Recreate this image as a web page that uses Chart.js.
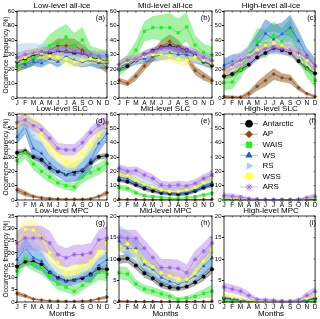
<!DOCTYPE html>
<html>
<head>
<meta charset="utf-8">
<script src="https://cdn.jsdelivr.net/npm/chart.js@4.4.1/dist/chart.umd.min.js"></script>
<style>
  body { margin: 0; background: #fff; }
  #wrap { position: relative; width: 320px; height: 319px; overflow: hidden; font-family: "Liberation Sans", Arial, sans-serif; color: #000; }
  #wrap canvas { position: absolute; left: 0; top: 0; }
  .title { position: absolute; font-size: 8px; line-height: 8px; white-space: nowrap; transform: translateX(-50%); }
  .letter { position: absolute; font-size: 7.5px; line-height: 8px; white-space: nowrap; transform: translateX(-100%); }
  .ytitle { position: absolute; font-size: 6.6px; line-height: 7px; white-space: nowrap; transform: translate(-50%, -50%) rotate(-90deg); }
</style>
</head>
<body>
<div id="wrap"></div>
<script>
const months = ['J', 'F', 'M', 'A', 'M', 'J', 'J', 'A', 'S', 'O', 'N', 'D']
const seriesNames = ['Antarctic', 'AP', 'WAIS', 'WS', 'RS', 'WSS', 'ARS']

// series order in every table: Antarctic, AP, WAIS, WS, RS, WSS, ARS
const lowIceMean = [
  [25, 27, 29, 31, 31, 32, 32, 31, 31, 28, 27, 25],
  [22, 24, 27, 30, 33, 36, 36, 36, 33, 28, 25, 21],
  [22, 25, 28, 31, 36, 38, 42, 36, 40, 29, 28, 28],
  [25, 23, 25, 24, 27, 25, 29, 26, 25, 26, 24, 24],
  [29, 30, 31, 32, 33, 31, 30, 29, 28, 27, 26, 28],
  [26, 28, 31, 31, 29, 28, 27, 25, 26, 27, 26, 25],
  [28, 30, 31, 32, 32, 33, 32, 32, 31, 30, 29, 29]
]
const lowIceSd = [
  [3, 3, 3, 3, 3, 3, 3, 3, 3, 3, 3, 3],
  [4, 4, 4, 4, 4, 5, 5, 5, 4, 4, 4, 4],
  [4, 4, 5, 6, 8, 10, 9, 9, 9, 7, 6, 5],
  [3, 3, 3, 3, 3, 4, 4, 4, 4, 4, 4, 4],
  [8, 8, 7, 5, 4, 4, 4, 4, 4, 4, 5, 6],
  [3, 4, 4, 4, 4, 4, 4, 4, 4, 3, 3, 3],
  [3, 3, 3, 3, 3, 3, 3, 3, 3, 3, 3, 3]
]

const midIceMean = [
  [20, 22, 26, 30, 32.5, 35, 36, 35, 33, 29.5, 25, 22.5],
  [12, 10, 15, 22, 29, 35, 39, 35, 29, 19, 15, 12],
  [20, 25, 33, 46, 48.5, 48.5, 48.5, 45, 49, 36.5, 31.5, 29.5],
  [21, 24, 26, 27, 28, 30, 31, 30, 30, 28, 25, 23],
  [22, 25, 26, 29, 30, 32, 30, 28, 28, 29, 27, 25],
  [22, 25, 27, 29, 30, 30, 29, 27, 26, 28, 26, 24],
  [23, 26, 27, 30, 32, 34, 35, 34, 33, 31, 28, 26]
]
const midIceSd = [
  [2, 2, 2, 2, 2, 2, 2, 2, 2, 2, 2, 2],
  [2, 2, 3, 3, 4, 5, 5, 5, 4, 3, 3, 2],
  [5, 5, 6, 7, 8, 9, 10, 10, 10, 7, 6, 6],
  [3, 3, 3, 3, 3, 4, 4, 4, 4, 4, 3, 3],
  [3, 3, 3, 3, 3, 3, 3, 3, 3, 3, 3, 3],
  [3, 3, 3, 3, 3, 4, 4, 4, 4, 3, 3, 3],
  [3, 3, 3, 3, 3, 3, 3, 3, 3, 3, 3, 3]
]

const highIceMean = [
  [15, 16.5, 19.5, 23, 28, 31, 34.5, 33, 31, 25.5, 20.5, 17],
  [1, 0.5, 0.5, 3, 8, 12, 16.5, 14, 13, 7, 3, 1],
  [10.5, 11, 19.5, 30.5, 39, 37.5, 43, 39, 46, 32.5, 20, 12],
  [22.5, 25, 26, 29.5, 36.5, 44.5, 40.5, 44, 48.5, 39.5, 29.5, 22.5],
  [19, 24, 27, 30, 33, 37, 38, 37, 35, 32, 27, 22],
  [18, 22, 25, 29, 33, 36, 38, 36, 33, 30, 26, 21],
  [20, 23, 26, 28, 31, 34, 35, 34, 33, 31, 28, 22]
]
const highIceSd = [
  [2, 2, 2, 2, 2, 2, 2, 2, 2, 2, 2, 2],
  [1, 1, 1, 2, 3, 4, 4, 3, 3, 2, 1, 1],
  [5, 5, 6, 7, 9, 10, 10, 9, 9, 7, 6, 5],
  [5, 5, 5, 6, 8, 10, 10, 8, 9, 7, 5, 5],
  [4, 4, 5, 6, 7, 8, 8, 7, 7, 6, 5, 4],
  [4, 4, 4, 4, 4, 4, 4, 4, 4, 4, 4, 4],
  [4, 4, 4, 4, 4, 4, 4, 4, 4, 4, 4, 4]
]

const lowSlcMean = [
  [33, 34, 30, 28, 22.5, 20, 18, 19.5, 20.5, 26, 30, 31],
  [7, 4.5, 2.5, 1.5, 1, 0.8, 0.5, 0.5, 0.5, 0.8, 2.5, 5],
  [27.5, 33, 25, 20, 16, 12, 10, 9, 16, 19, 21.5, 25.5],
  [44, 51, 36, 32.5, 25.5, 21, 17.5, 17.5, 21, 28, 39.5, 46.5],
  [51, 51, 45, 36, 29, 22, 19, 21, 24, 33, 43, 49],
  [52, 57, 53, 46.5, 37, 32, 26.5, 25.5, 32.5, 38, 45, 51],
  [54, 56, 52, 49, 43, 36, 35, 35, 40, 47, 52, 54]
]
const lowSlcSd = [
  [2, 2, 2, 2, 2, 2, 2, 2, 2, 2, 2, 2],
  [2, 2, 1, 1, 1, 0.5, 0.5, 0.5, 0.5, 1, 1, 2],
  [4, 4, 4, 4, 4, 3, 3, 3, 4, 4, 4, 4],
  [5, 5, 7, 8, 6, 5, 5, 5, 6, 7, 6, 5],
  [5, 5, 6, 6, 6, 5, 5, 5, 5, 6, 6, 5],
  [4, 4, 5, 6, 6, 5, 5, 5, 5, 5, 5, 4],
  [4, 4, 4, 4, 4, 4, 4, 4, 4, 4, 4, 4]
]

const midSlcMean = [
  [14, 12.8, 10.5, 8, 6.3, 5, 4.6, 4, 4.6, 6.3, 8.6, 10.5],
  [0.5, 0.4, 0.3, 0.2, 0.2, 0.2, 0.1, 0.1, 0.2, 0.2, 0.3, 0.4],
  [8.8, 8, 5, 3, 2.3, 1.9, 1.2, 1.2, 1.6, 2.3, 3.5, 4.6],
  [16, 15, 12, 10, 8, 6, 5, 5, 5.5, 7, 10, 12],
  [20, 18, 15, 12, 10, 8, 7, 7, 8, 10, 13, 16],
  [18, 17, 14, 11, 9, 7, 6, 6, 7, 9, 12, 15],
  [22, 20, 20.5, 17.5, 15, 10.5, 9.8, 10.5, 9.8, 11.6, 15, 17.5]
]
const midSlcSd = [
  [1.5, 1.5, 1.5, 1.5, 1.5, 1.5, 1.5, 1.5, 1.5, 1.5, 1.5, 1.5],
  [0.3, 0.3, 0.3, 0.3, 0.3, 0.3, 0.3, 0.3, 0.3, 0.3, 0.3, 0.3],
  [2, 2, 1.5, 1, 1, 1, 0.5, 0.5, 0.5, 1, 1, 1.5],
  [3, 3, 2, 2, 2, 2, 2, 2, 2, 2, 2, 3],
  [4, 4, 3, 3, 2, 2, 2, 2, 2, 2, 3, 3],
  [2, 2, 2, 2, 2, 2, 2, 2, 2, 2, 2, 2],
  [3, 3, 3, 3, 3, 3, 3, 3, 3, 3, 3, 3]
]

const highSlcMean = [
  [0.8, 0.6, 0.4, 0.2, 0.1, 0.1, 0.1, 0.1, 0.1, 0.2, 0.5, 0.8],
  [0.1, 0.1, 0.1, 0.1, 0.1, 0.1, 0.1, 0.1, 0.1, 0.1, 0.1, 0.1],
  [0.3, 0.2, 0.1, 0.1, 0.1, 0.1, 0.1, 0.1, 0.1, 0.1, 0.2, 0.3],
  [0.6, 0.5, 0.3, 0.2, 0.1, 0.1, 0.1, 0.1, 0.1, 0.2, 0.4, 0.6],
  [1, 0.8, 0.5, 0.3, 0.1, 0.1, 0.1, 0.1, 0.1, 0.3, 0.8, 1],
  [1.5, 1.2, 0.8, 0.4, 0.2, 0.1, 0.1, 0.1, 0.1, 0.3, 1, 1.5],
  [3, 2.5, 2, 1, 0.5, 0.3, 0.2, 0.2, 0.2, 0.5, 1.5, 2.5]
]
const highSlcSd = [
  [0.5, 0.5, 0.4, 0.3, 0.2, 0.2, 0.2, 0.2, 0.2, 0.3, 0.4, 0.5],
  [0.1, 0.1, 0.1, 0.1, 0.1, 0.1, 0.1, 0.1, 0.1, 0.1, 0.1, 0.1],
  [0.3, 0.3, 0.2, 0.2, 0.1, 0.1, 0.1, 0.1, 0.1, 0.2, 0.2, 0.3],
  [0.5, 0.5, 0.4, 0.3, 0.2, 0.2, 0.2, 0.2, 0.2, 0.3, 0.4, 0.5],
  [0.8, 0.7, 0.5, 0.3, 0.2, 0.2, 0.2, 0.2, 0.2, 0.3, 0.6, 0.8],
  [0.8, 0.7, 0.5, 0.3, 0.2, 0.2, 0.2, 0.2, 0.2, 0.3, 0.6, 0.8],
  [2, 2, 1.5, 1, 0.5, 0.3, 0.3, 0.3, 0.3, 0.5, 1.5, 2]
]

const lowMpcMean = [
  [14.4, 16.4, 16.4, 15.3, 12, 10, 8.7, 9, 9.7, 11.3, 13.6, 13.3],
  [3.5, 2.5, 1.2, 0.8, 0.5, 0.4, 0.3, 0.3, 0.4, 0.6, 1.3, 2],
  [12.6, 17.7, 15.6, 14, 10.7, 7.3, 6, 4.4, 6.7, 9.3, 12, 11.3],
  [17.3, 22, 18, 16.6, 12, 9.3, 8.4, 8.7, 10.3, 10.7, 15, 17.3],
  [18.6, 22, 20, 18, 14, 11, 9.5, 10, 11, 13, 16, 18],
  [24.4, 29.6, 29.3, 26.2, 20, 16, 12, 12.6, 14.6, 16.4, 20.6, 24],
  [24, 26, 26, 26, 24, 19.3, 18, 19.3, 19.3, 20, 25.3, 26]
]
const lowMpcSd = [
  [1.5, 1.5, 1.5, 1.5, 1.5, 1.5, 1.5, 1.5, 1.5, 1.5, 1.5, 1.5],
  [1, 0.8, 0.5, 0.3, 0.2, 0.2, 0.2, 0.2, 0.2, 0.3, 0.5, 0.8],
  [3, 3, 3, 3, 2.5, 2.5, 2, 2, 2, 2.5, 3, 3],
  [3, 4, 4, 4, 3, 2, 2, 2, 2, 3, 3, 3],
  [4, 5, 5, 4, 3, 3, 3, 3, 3, 3, 3, 4],
  [4, 4, 4, 4, 4, 3, 3, 3, 3, 3, 3, 4],
  [5, 5, 5, 5, 5, 4, 4, 4, 4, 4, 4, 5]
]

const midMpcMean = [
  [9.9, 10.1, 8.5, 6.7, 5.5, 4, 3.4, 3.2, 3.6, 4.6, 5.9, 7.6],
  [0.2, 0.15, 0.1, 0.1, 0.1, 0.1, 0.1, 0.1, 0.1, 0.1, 0.1, 0.15],
  [6.8, 6.5, 4.2, 3, 2.5, 1.9, 1.3, 0.6, 0.9, 1.3, 2, 2.5],
  [14.2, 12.5, 12.5, 8.7, 7.6, 5.7, 4.8, 4.2, 4.8, 6.1, 8.4, 10.3],
  [15, 13.5, 12, 10, 8, 6.5, 5.5, 4.5, 5, 6.5, 9, 11.5],
  [13, 13.5, 11.8, 9.5, 8.2, 6.8, 6.1, 5.1, 5.3, 6.8, 9.5, 12.2],
  [15, 14.8, 14.8, 12.5, 10.3, 8, 8, 7.8, 6.8, 9.9, 11.8, 13.7]
]
const midMpcSd = [
  [1, 1, 1, 1, 0.8, 0.8, 0.7, 0.7, 0.7, 0.8, 1, 1],
  [0.2, 0.2, 0.1, 0.1, 0.1, 0.1, 0.1, 0.1, 0.1, 0.1, 0.1, 0.2],
  [1.5, 1.5, 1, 1, 1, 1, 0.8, 0.5, 0.5, 0.8, 1, 1.5],
  [2, 2, 2, 2, 1.5, 1.5, 1, 1, 1, 1.5, 2, 2],
  [3, 3, 3, 2.5, 2, 1.5, 1.5, 1, 1.5, 2, 2.5, 3],
  [1.5, 1.5, 1.5, 1.5, 1.5, 1.5, 1.5, 1.5, 1.5, 1.5, 1.5, 1.5],
  [2, 2, 2, 2, 2, 2, 2, 2, 2, 2, 2, 2]
]

const highMpcMean = [
  [1, 0.8, 0.5, 0.3, 0.2, 0.1, 0.1, 0.1, 0.1, 0.2, 0.5, 0.8],
  [0.05, 0.05, 0.05, 0.05, 0.05, 0.05, 0.05, 0.05, 0.05, 0.05, 0.05, 0.05],
  [0.3, 0.3, 0.2, 0.1, 0.1, 0.1, 0.1, 0.1, 0.1, 0.1, 0.2, 0.3],
  [0.8, 0.7, 0.4, 0.2, 0.1, 0.1, 0.1, 0.1, 0.1, 0.2, 0.5, 0.8],
  [1.2, 1, 0.6, 0.3, 0.2, 0.1, 0.1, 0.1, 0.1, 0.3, 0.7, 1.2],
  [1.5, 1.2, 0.8, 0.4, 0.2, 0.1, 0.1, 0.1, 0.1, 0.3, 0.9, 1.4],
  [3.5, 3, 2.5, 1.5, 0.6, 0.5, 0.4, 0.2, 0.2, 0.5, 1.5, 2.5]
]
const highMpcSd = [
  [0.3, 0.3, 0.3, 0.2, 0.1, 0.1, 0.1, 0.1, 0.1, 0.1, 0.2, 0.3],
  [0.05, 0.05, 0.05, 0.05, 0.05, 0.05, 0.05, 0.05, 0.05, 0.05, 0.05, 0.05],
  [0.2, 0.2, 0.1, 0.1, 0.1, 0.1, 0.1, 0.1, 0.1, 0.1, 0.1, 0.2],
  [0.3, 0.3, 0.3, 0.2, 0.1, 0.1, 0.1, 0.1, 0.1, 0.1, 0.2, 0.3],
  [0.4, 0.4, 0.3, 0.2, 0.1, 0.1, 0.1, 0.1, 0.1, 0.2, 0.3, 0.4],
  [0.4, 0.4, 0.3, 0.2, 0.1, 0.1, 0.1, 0.1, 0.1, 0.2, 0.3, 0.4],
  [1, 1, 1, 0.8, 0.4, 0.3, 0.3, 0.2, 0.2, 0.3, 0.8, 1]
]

// styles
const lineColors = ['#000000', '#8b4a1c', '#2ee62e', '#1f5fc8', '#a6cdf5', '#ffff4d', '#9a63e0']
const bandColors = ['rgba(90,90,90,0.5)', 'rgba(150,95,45,0.55)', 'rgba(60,225,60,0.45)',
  'rgba(45,120,205,0.5)', 'rgba(165,205,245,0.5)', 'rgba(250,245,120,0.5)', 'rgba(175,125,235,0.45)']
const pointStyles = ['circle', 'rectRot', 'rect', 'triangle', 'triangle', 'circle', 'star']
const pointRotations = [0, 0, 0, 0, 90, 0, 0]
const pointSizes = [1.8, 1.8, 2, 1.8, 1.8, 1.6, 2.2]

const cols = [{ l: 17, r: 107 }, { l: 119, r: 212 }, { l: 224, r: 318 }]
const rows = [{ t: 11, b: 98 }, { t: 114, b: 200 }, { t: 216, b: 302 }]

const panels = [
  { title: 'Low-level all-ice', letter: '(a)', mean: lowIceMean, sd: lowIceSd, max: 60, step: 10 },
  { title: 'Mid-level all-ice', letter: '(b)', mean: midIceMean, sd: midIceSd, max: 60, step: 10 },
  { title: 'High-level all-ice', letter: '(c)', mean: highIceMean, sd: highIceSd, max: 60, step: 10 },
  { title: 'Low-level SLC', letter: '(d)', mean: lowSlcMean, sd: lowSlcSd, max: 60, step: 10 },
  { title: 'Mid-level SLC', letter: '(e)', mean: midSlcMean, sd: midSlcSd, max: 60, step: 10 },
  { title: 'High-level SLC', letter: '(f)', mean: highSlcMean, sd: highSlcSd, max: 60, step: 10, legend: true },
  { title: 'Low-level MPC', letter: '(g)', mean: lowMpcMean, sd: lowMpcSd, max: 35, step: 5 },
  { title: 'Mid-level MPC', letter: '(h)', mean: midMpcMean, sd: midMpcSd, max: 20, step: 5 },
  { title: 'High-level MPC', letter: '(i)', mean: highMpcMean, sd: highMpcSd, max: 20, step: 5 }
]

const FONT = '"Liberation Sans", Arial, sans-serif'

// box round the plot area, with small inner ticks on the top and right sides
const framePlugin = {
  id: 'frame',
  afterDraw (chart) {
    const { left, top, right, bottom } = chart.chartArea
    const ctx = chart.ctx
    ctx.save()
    ctx.strokeStyle = '#000'
    ctx.lineWidth = 0.8
    ctx.strokeRect(left, top, right - left, bottom - top)
    ctx.lineWidth = 0.6
    ctx.beginPath()
    chart.scales.x.ticks.forEach((t, i) => {
      const x = chart.scales.x.getPixelForTick(i)
      ctx.moveTo(x, top); ctx.lineTo(x, top + 1.5)
      ctx.moveTo(x, bottom); ctx.lineTo(x, bottom - 1.5)
    })
    chart.scales.y.ticks.forEach((t, i) => {
      const y = chart.scales.y.getPixelForTick(i)
      ctx.moveTo(right, y); ctx.lineTo(right - 1.5, y)
    })
    ctx.stroke()
    ctx.restore()
  }
}

const legendPlugin = {
  id: 'seriesLegend',
  afterDraw (chart, args, opts) {
    if (!opts.show) return
    const ctx = chart.ctx
    const x0 = chart.chartArea.left + 16
    ctx.save()
    seriesNames.forEach((name, i) => {
      const y = 123.7 + i * 10.55
      ctx.strokeStyle = lineColors[i]
      ctx.fillStyle = lineColors[i]
      ctx.globalAlpha = 0.5
      ctx.lineWidth = 0.8
      ctx.beginPath()
      ctx.moveTo(x0, y)
      ctx.lineTo(x0 + 18, y)
      ctx.stroke()
      ctx.globalAlpha = 1
      Chart.helpers.drawPoint(ctx, {
        pointStyle: pointStyles[i], rotation: pointRotations[i], radius: i === 2 ? 4 : 3.5, borderWidth: 1
      }, x0 + 9, y)
      ctx.fillStyle = '#000'
      ctx.font = '8px ' + FONT
      ctx.textBaseline = 'middle'
      ctx.textAlign = 'left'
      ctx.fillText(name, x0 + 22.5, y)
    })
    ctx.restore()
  }
}

const wrap = document.getElementById('wrap')

function addText (cls, text, left, top) {
  const d = document.createElement('div')
  d.className = cls
  d.textContent = text
  d.style.left = left + 'px'
  d.style.top = top + 'px'
  wrap.appendChild(d)
}

panels.forEach((p, k) => {
  const col = cols[k % 3]
  const row = rows[Math.floor(k / 3)]
  const canvas = document.createElement('canvas')
  canvas.width = 320
  canvas.height = 319
  wrap.appendChild(canvas)

  const datasets = []
  p.mean.forEach((vals, i) => {
    datasets.push({
      data: vals.map((v, j) => v + p.sd[i][j]),
      borderWidth: 0, pointRadius: 0, fill: false, order: 20 - i
    })
    datasets.push({
      data: vals.map((v, j) => Math.max(0, v - p.sd[i][j])),
      borderWidth: 0, pointRadius: 0, fill: '-1', backgroundColor: bandColors[i], order: 20 - i
    })
  })
  p.mean.forEach((vals, i) => {
    datasets.push({
      data: vals,
      borderColor: lineColors[i],
      borderWidth: 0.6,
      backgroundColor: lineColors[i],
      pointStyle: pointStyles[i],
      pointRotation: pointRotations[i],
      pointRadius: pointSizes[i],
      pointBorderWidth: i === 6 ? 0.9 : 0.4,
      pointBorderColor: lineColors[i],
      pointBackgroundColor: lineColors[i],
      clip: 3,
      order: 8 - i
    })
  })

  new Chart(canvas.getContext('2d'), {
    type: 'line',
    data: { labels: months, datasets },
    options: {
      responsive: false,
      animation: false,
      events: [],
      layout: { padding: { left: col.l - 10, right: 320 - col.r, top: row.t, bottom: 319 - row.b - 8 } },
      elements: { line: { tension: 0 } },
      plugins: {
        legend: { display: false },
        tooltip: { enabled: false },
        seriesLegend: { show: !!p.legend }
      },
      scales: {
        x: {
          offset: false,
          afterFit (scale) { scale.height = 8 },
          grid: { drawOnChartArea: false, drawTicks: false, color: '#000' },
          border: { display: false },
          ticks: { color: '#000', font: { size: 6.5, family: FONT }, padding: 1, maxRotation: 0, autoSkip: false }
        },
        y: {
          min: 0,
          max: p.max,
          afterFit (scale) { scale.width = 10 },
          grid: { drawOnChartArea: false, drawTicks: true, tickLength: 2, color: '#000' },
          border: { display: false },
          ticks: { stepSize: p.step, color: '#000', font: { size: 6, family: FONT }, padding: 0.5 }
        }
      }
    },
    plugins: [framePlugin, legendPlugin]
  })

  addText('title', p.title, (col.l + col.r) / 2, row.t - 9.5)
  addText('letter', p.letter, col.r - 2, row.t + 3)
  if (k >= 6) addText('title', 'Months', (col.l + col.r) / 2, 310)
})

rows.forEach(row => addText('ytitle', 'Occurrence frequency (%)', 4.8, (row.t + row.b) / 2))
</script>
</body>
</html>
